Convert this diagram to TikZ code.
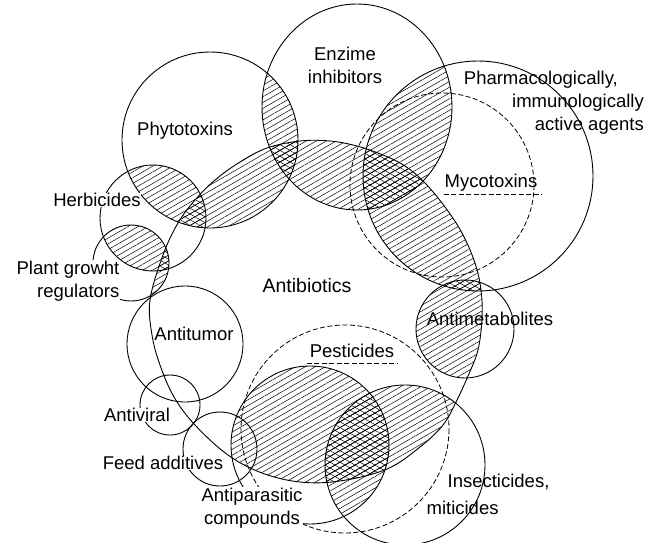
\documentclass[tikz,border=0pt]{standalone}
\usepackage{fontspec}
\setmainfont{Liberation Sans}
\usetikzlibrary{patterns.meta}

% the sets, in picture units (1 unit = 1pt, y grows downwards)
\newcommand{\phytoC}{(210,140) circle[radius=88]}
\newcommand{\enzC}{(357,107) ellipse[x radius=95, y radius=103]}
\newcommand{\pharmaC}{(478,176) circle[radius=115]}
\newcommand{\mycoC}{(442,185) circle[radius=92]}
\newcommand{\herbC}{(153,218) circle[radius=53]}
\newcommand{\plantC}{(131,263) circle[radius=38]}
\newcommand{\tumorC}{(185,344) circle[radius=58]}
\newcommand{\viralC}{(170,405) circle[radius=30]}
\newcommand{\feedC}{(220,449) circle[radius=37]}
\newcommand{\parasC}{(310,445) circle[radius=79]}
\newcommand{\pestC}{(345,429) circle[radius=104]}
\newcommand{\insectC}{(405,465) circle[radius=80]}
\newcommand{\metabC}{(465,329) circle[radius=49]}
\newcommand{\antibC}{plot[smooth cycle, tension=0.6] coordinates {
  (150,300) (152,335) (160,365) (174,397) (195,425) (228,455) (262,473)
  (300,482) (340,481) (387,469) (420,447) (443,425) (456,402) (468,376)
  (478,350) (482,318) (481,290) (475,263) (462,233) (445,207) (425,183)
  (405,166) (383,155) (357,146) (330,141) (300,141) (267,148) (240,162)
  (215,180) (195,200) (178,223) (163,255)}}

\begin{document}
\begin{tikzpicture}[
    x=1pt, y=-1pt,
    outline/.style={draw, line width=0.9pt},
    dashline/.style={draw, line width=0.8pt, dash pattern=on 5pt off 2.5pt},
    hatch/.style={pattern={Lines[angle=30, distance=5pt, line width=0.5pt]}},
    cross/.style={pattern={Lines[angle=-30, distance=5pt, line width=0.5pt]}},
    lbl/.style={inner sep=1pt, font=\fontsize{18.5}{23}\selectfont},
    cover/.style={fill=white, inner sep=0.5pt}
]
\useasboundingbox (0,0) rectangle (648,543);
\clip (0,0) rectangle (648,543);

% single hatching: overlaps
\begin{scope}
  \clip \antibC;
  \fill[hatch] \phytoC;
  \fill[hatch] \enzC;
  \fill[hatch] \pharmaC;
  \fill[hatch] \metabC;
  \fill[hatch] \insectC;
  \fill[hatch] \parasC;
  \fill[hatch] \plantC;
\end{scope}
\begin{scope}
  \clip \phytoC;
  \fill[hatch] \enzC;
  \fill[hatch] \herbC;
\end{scope}
\begin{scope}
  \clip \herbC;
  \fill[hatch] \plantC;
\end{scope}
\begin{scope}
  \clip \enzC;
  \fill[hatch] \pharmaC;
\end{scope}
\begin{scope}
  \clip \insectC;
  \fill[hatch] \parasC;
\end{scope}

% cross hatching: triple overlaps
\begin{scope}
  \clip \antibC;
  \begin{scope}
    \clip \phytoC;
    \fill[cross] \enzC;
    \fill[cross] \herbC;
  \end{scope}
  \begin{scope}
    \clip \herbC;
    \fill[cross] \plantC;
  \end{scope}
  \begin{scope}
    \clip \enzC;
    \fill[cross] \pharmaC;
  \end{scope}
  \begin{scope}
    \clip \pharmaC;
    \fill[cross] \metabC;
  \end{scope}
  \begin{scope}
    \clip \insectC;
    \fill[cross] \parasC;
  \end{scope}
\end{scope}

% outlines
\path[outline] \antibC;
\path[outline] \phytoC;
\path[outline] \enzC;
\path[outline] \pharmaC;
\path[outline] \herbC;
\path[outline] \plantC;
\path[outline] \tumorC;
\path[outline] \viralC;
\path[outline] \feedC;
\path[outline] \parasC;
\path[outline] \insectC;
\path[outline] \metabC;
\path[dashline] \mycoC;
\path[dashline] \pestC;

% labels
\node[lbl, align=center] (enz) at (345,65) {Enzime\\inhibitors};
\node[lbl] (phyto) at (185,131) {Phytotoxins};
\node[lbl, align=right, anchor=east] (pharma) at (645,103) {Pharmacologically,\hspace*{26pt}\\immunologically\\active agents};
\node[lbl] (myco) at (491,183) {Mycotoxins};
\node[lbl, cover] (herb) at (97,200) {Herbicides};
\node[lbl, cover, align=right] (plant) at (68,281) {Plant growht\\regulators};
\node[lbl, font=\fontsize{19.5}{23}\selectfont] (antib) at (307,286) {Antibiotics};
\node[lbl] (tumor) at (194,334) {Antitumor};
\node[lbl] (metab) at (490,319) {Antimetabolites};
\node[lbl] (pest) at (352,351) {Pesticides};
\node[lbl, cover] (viral) at (137,415) {Antiviral};
\node[lbl, cover] (feed) at (163,463) {Feed additives};
\node[lbl, cover, align=center] (paras) at (252,508) {Antiparasitic\\compounds};
\node[lbl, align=left] (insect) at (488,494) {\hspace*{21pt}Insecticides,\\[4pt]miticides};

% underlines
\draw[dashline] ([yshift=-2pt]myco.south west) -- ([yshift=-2pt, xshift=4pt]myco.south east);
\draw[dashline] ([yshift=-4pt, xshift=-2pt]pest.south west) -- ([yshift=-4pt, xshift=3pt]pest.south east);

\end{tikzpicture}
\end{document}
